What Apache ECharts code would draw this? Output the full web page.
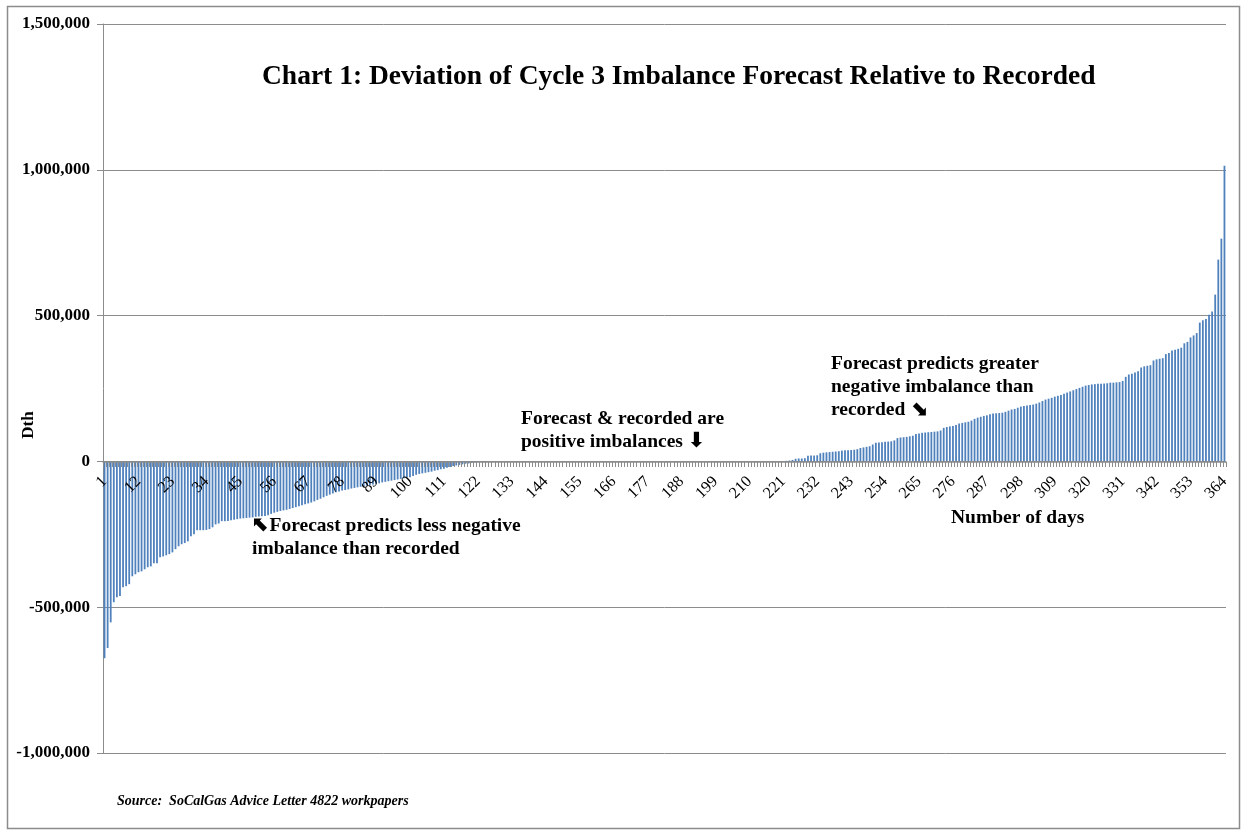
<!DOCTYPE html>
<html>
<head>
<meta charset="utf-8">
<script src="https://cdn.jsdelivr.net/npm/echarts@6/dist/echarts.min.js"></script>
<style>
html,body{margin:0;padding:0;background:#fff;}
#chart{width:1246px;height:836px;}
</style>
</head>
<body>
<div id="chart"></div>
<script>
// Negative deviations (days 1-125)
var negativeDays = [
-675000,-640000,-552000,-483000,-466000,-462000,-432000,-428000,-421000,-394000,
-387000,-380000,-377000,-370000,-363000,-360000,-349000,-349000,-329000,-326000,
-322000,-318000,-312000,-301000,-291000,-284000,-280000,-274000,-257000,-250000,
-236000,-236000,-236000,-235000,-232000,-226000,-216000,-213000,-205000,-205000,
-204000,-202000,-200000,-198000,-196000,-195000,-194000,-193000,-192000,-190000,
-189000,-188000,-187000,-185000,-180000,-176000,-173000,-170000,-168000,-166000,
-163000,-160000,-157000,-154000,-150000,-147000,-144000,-141000,-137000,-132000,
-128000,-123000,-118000,-114000,-110000,-106000,-103000,-100000,-98000,-96000,
-93000,-91000,-89000,-87000,-85000,-83000,-81000,-79000,-77000,-75000,
-72000,-70000,-68000,-66000,-64000,-62000,-60000,-58000,-56000,-54000,
-50000,-46000,-43000,-41000,-39000,-37000,-35000,-32000,-30000,-27000,
-25000,-22000,-19000,-16000,-14000,-12000,-10000,-8000,-7000,-5000,
-3000,-2000,-1500,-1000,-500
];
// Days with no deviation plotted (days 126-221)
var zeroDays = [
0,0,0,0,0,0,0,0,0,0, 0,0,0,0,0,0,0,0,0,0,
0,0,0,0,0,0,0,0,0,0, 0,0,0,0,0,0,0,0,0,0,
0,0,0,0,0,0,0,0,0,0, 0,0,0,0,0,0,0,0,0,0,
0,0,0,0,0,0,0,0,0,0, 0,0,0,0,0,0,0,0,0,0,
0,0,0,0,0,0,0,0,0,0, 0,0,0,0,0,0
];
// Positive deviations (days 222-364)
var positiveDays = [
2000,3000,5000,9000,10000,10000,11000,19000,20000,20000,
21000,28000,30000,31000,32000,33000,34000,35000,37000,38000,
38000,39000,40000,42000,46000,48000,50000,52000,58000,64000,
65000,66000,67000,68000,69000,72000,80000,82000,83000,84000,
86000,88000,94000,96000,98000,99000,100000,101000,102000,103000,
106000,115000,118000,120000,121000,125000,130000,132000,134000,136000,
140000,146000,150000,153000,156000,158000,162000,164000,165000,166000,
167000,170000,174000,178000,180000,184000,188000,190000,192000,193000,
195000,198000,202000,207000,212000,215000,218000,222000,225000,228000,
232000,236000,240000,244000,248000,252000,256000,260000,262000,264000,
265000,266000,266000,267000,268000,270000,270000,271000,272000,276000,
290000,298000,301000,305000,309000,322000,326000,328000,330000,346000,
350000,352000,354000,368000,372000,380000,383000,386000,390000,405000,
410000,425000,432000,440000,476000,484000,488000,503000,514000,572000,
692000,764000,1014000
];
var yTicks = [-1000000, -500000, 0, 500000, 1000000, 1500000];

var values = negativeDays.concat(zeroDays, positiveDays);
var days = values.map(function(v, i){ return String(i + 1); });

var serif = '"Liberation Serif", "DejaVu Serif", serif';
var arrowRich = {a: {fontFamily: '"DejaVu Sans"', fontSize: 21, fontWeight: 'bold', fill: '#000'}};
var chart = echarts.init(document.getElementById('chart'));
chart.setOption({
  animation: false,
  backgroundColor: '#fff',
  grid: {left: 103, top: 24, right: 20, bottom: 83, containLabel: false, outerBoundsMode: 'none'},
  title: {
    text: 'Chart 1: Deviation of Cycle 3 Imbalance Forecast Relative to Recorded',
    left: 257, top: 58,
    textStyle: {fontFamily: serif, fontWeight: 'bold', fontSize: 27.5, color: '#000'}
  },
  xAxis: {
    type: 'category',
    data: days,
    offset: -291,
    z: 10,
    axisLine: {onZero: false, lineStyle: {color: '#8c8c8c', width: 1.5}},
    axisTick: {show: true, interval: 0, length: 5, lineStyle: {color: '#8c8c8c'}},
    axisLabel: {interval: 10, rotate: 45, fontFamily: serif, fontSize: 16, color: '#000', margin: 17},
    splitLine: {show: false}
  },
  yAxis: {
    type: 'value',
    min: yTicks[0], max: yTicks[yTicks.length - 1], interval: 500000,
    axisLine: {show: true, lineStyle: {color: '#8c8c8c'}},
    axisTick: {show: true, length: 6, lineStyle: {color: '#8c8c8c'}},
    axisLabel: {
      fontFamily: serif, fontWeight: 'bold', fontSize: 17, color: '#000', margin: 13,
      formatter: function(v){ return v.toLocaleString('en-US'); }
    },
    splitLine: {show: true, lineStyle: {color: '#8c8c8c', width: 1}}
  },
  series: [{
    type: 'bar',
    data: values,
    barWidth: 1.8,
    itemStyle: {color: '#4f81bd'}
  }],
  graphic: [
    {type: 'rect', shape: {x: 7.5, y: 6.5, width: 1232, height: 822}, style: {fill: 'none', stroke: '#8c8c8c', lineWidth: 1.5}, silent: true, z: -1},
    {type: 'text', x: 29, y: 425, rotation: Math.PI / 2, style: {text: 'Dth', font: 'bold 17px ' + serif, fill: '#000', align: 'center', verticalAlign: 'middle'}},
    {type: 'text', left: 951, top: 508, style: {text: 'Number of days', font: 'bold 19.5px ' + serif, fill: '#000'}},
    {type: 'text', left: 252, top: 514, style: {
      text: '{a|⬉}Forecast predicts less negative\nimbalance than recorded',
      font: 'bold 19.5px ' + serif, fill: '#000', lineHeight: 23, rich: arrowRich
    }},
    {type: 'text', left: 521, top: 407, style: {
      text: 'Forecast & recorded are\npositive imbalances {a|⬇}',
      font: 'bold 19.5px ' + serif, fill: '#000', lineHeight: 23, rich: arrowRich
    }},
    {type: 'text', left: 831, top: 352, style: {
      text: 'Forecast predicts greater\nnegative imbalance than\nrecorded {a|⬊}',
      font: 'bold 19.5px ' + serif, fill: '#000', lineHeight: 23, rich: arrowRich
    }},
    {type: 'text', left: 117, top: 794, style: {text: 'Source:  SoCalGas Advice Letter 4822 workpapers', font: 'italic bold 14px ' + serif, fill: '#000'}}
  ]
});
</script>
</body>
</html>
